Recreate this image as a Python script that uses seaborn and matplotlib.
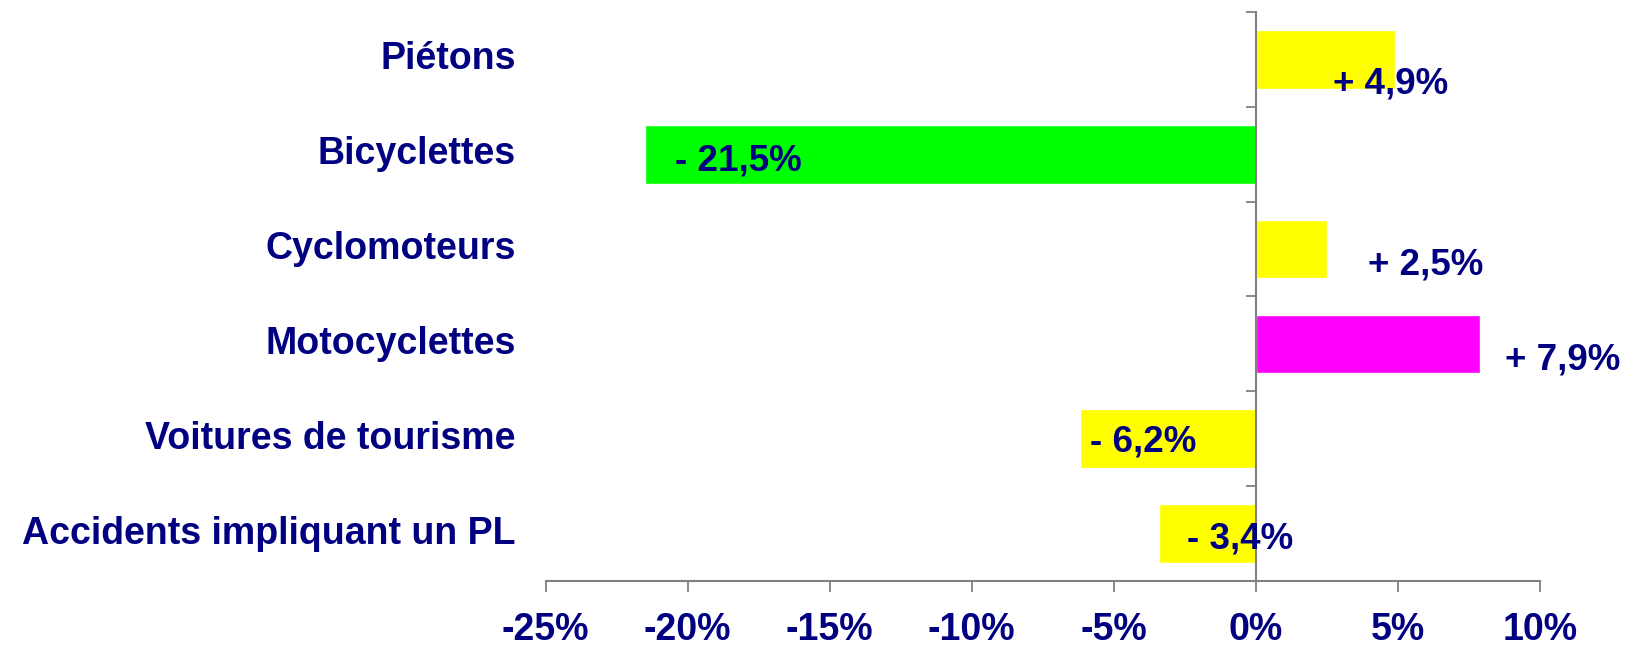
import matplotlib
matplotlib.use("Agg")
import matplotlib.pyplot as plt
import matplotlib.transforms as mtransforms
import seaborn as sns
import numpy as np
import pandas as pd

# data
categories = ["Piétons", "Bicyclettes", "Cyclomoteurs", "Motocyclettes",
              "Voitures de tourisme", "Accidents impliquant un PL"]
values = [4.9, -21.5, 2.5, 7.9, -6.2, -3.4]
value_labels = ["+ 4,9%", "- 21,5%", "+ 2,5%", "+ 7,9%", "- 6,2%", "- 3,4%"]
bar_colors = ["#FFFF00", "#00FF00", "#FFFF00", "#FF00FF", "#FFFF00", "#FFFF00"]
x_ticks = [-25, -20, -15, -10, -5, 0, 5, 10]

# label offsets in pixels from bar end (dx, dy)
label_offsets = [(-62, -25), (30, -7), (41, -16), (25, -16), (10, -3), (28, -5)]

NAVY = "#000080"
GREY = "#808080"

sns.set_style("white")
plt.rcParams["font.family"] = ["Liberation Sans", "DejaVu Sans"]

df = pd.DataFrame({"cat": categories, "val": values})

fig = plt.figure(figsize=(16.28, 6.51), dpi=100)
ax = fig.add_axes([0.3352, 0.1075, 0.6106, 0.8741])

sns.barplot(data=df, x="val", y="cat", hue="cat", palette=bar_colors,
            orient="h", width=0.62, legend=False, ax=ax, saturation=1)

ax.set_xlim(-25, 10)
ax.set_ylim(len(categories) - 0.5, -0.5)
ax.set_xlabel("")
ax.set_ylabel("")

# spines
for s in ["top", "right"]:
    ax.spines[s].set_visible(False)
ax.spines["left"].set_position(("data", 0))
ax.spines["left"].set_color(GREY)
ax.spines["left"].set_linewidth(1.5)
ax.spines["bottom"].set_color(GREY)
ax.spines["bottom"].set_linewidth(1.5)

# x ticks
ax.set_xticks(x_ticks)
ax.set_xticklabels([f"{t}%" for t in x_ticks], fontsize=27, fontweight="bold", color=NAVY)
ax.tick_params(axis="x", direction="out", length=8, width=1.3, color=GREY, pad=14, bottom=True)

# y ticks at category boundaries, no labels
ax.set_yticks(np.arange(-0.5, len(categories), 1.0))
ax.set_yticklabels([])
ax.tick_params(axis="y", direction="out", length=7, width=1.3, color=GREY, left=True)

# category names on the left
trans = mtransforms.blended_transform_factory(ax.transAxes, ax.transData)
for i, c in enumerate(categories):
    ax.text(-0.03, i, c, transform=trans, ha="right", va="center",
            fontsize=27, fontweight="bold", color=NAVY)

# value labels
for i, (v, lab) in enumerate(zip(values, value_labels)):
    dx, dy = label_offsets[i]
    ax.annotate(lab, xy=(v, i), xytext=(dx, dy), textcoords="offset pixels",
                ha="left", va="center", fontsize=26.5, fontweight="bold",
                color=NAVY, annotation_clip=False)

fig.savefig("out.png", dpi=100, facecolor="white")
